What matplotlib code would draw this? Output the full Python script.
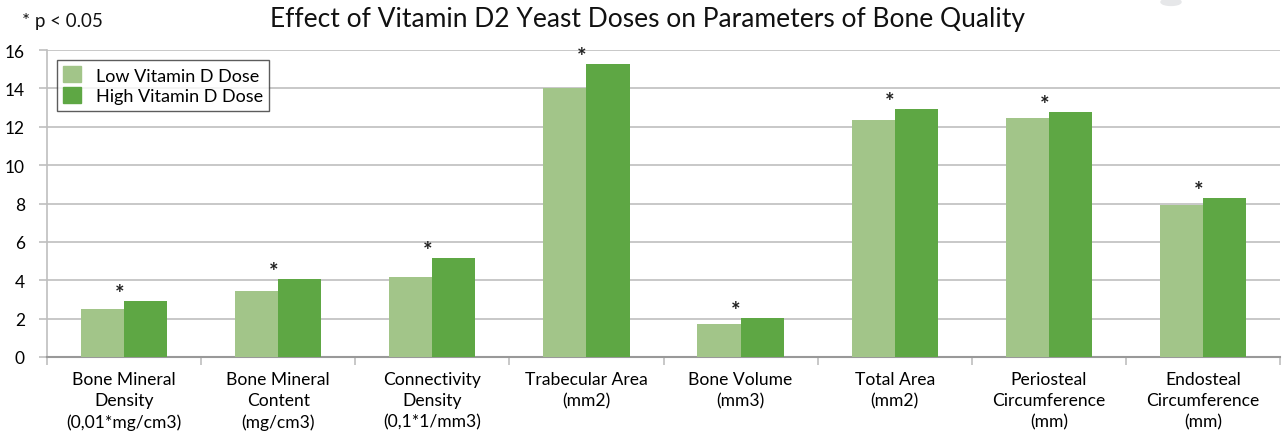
import matplotlib
matplotlib.use("Agg")
import matplotlib.pyplot as plt
import numpy as np
from matplotlib.patches import Circle, Patch

plt.rcParams['font.family'] = ['Lato', 'DejaVu Sans']

categories = ["Bone Mineral\nDensity\n(0,01*mg/cm3)", "Bone Mineral\nContent\n(mg/cm3)",
              "Connectivity\nDensity\n(0,1*1/mm3)", "Trabecular Area\n(mm2)",
              "Bone Volume\n(mm3)", "Total Area\n(mm2)",
              "Periosteal\nCircumference\n(mm)", "Endosteal\nCircumference\n(mm)"]
low_dose = [2.5, 3.44, 4.17, 14.0, 1.72, 12.35, 12.45, 7.92]
high_dose = [2.92, 4.06, 5.16, 15.27, 2.03, 12.92, 12.77, 8.29]
significant = [True] * 8
yticks = [0, 2, 4, 6, 8, 10, 12, 14, 16]

LOW = "#A2C589"
HIGH = "#5EA744"

fig = plt.figure(figsize=(12.83, 4.39), dpi=100)
ax = fig.add_axes([47/1283, 1-358/439, (1280-47)/1283, (358-51)/439])

x = np.arange(len(categories))
w = 0.28
ax.bar(x - w/2, low_dose, width=w, color=LOW, label="Low Vitamin D Dose", zorder=3)
ax.bar(x + w/2, high_dose, width=w, color=HIGH, label="High Vitamin D Dose", zorder=3)

for i, s in enumerate(significant):
    if s:
        top = max(low_dose[i], high_dose[i])
        ax.text(x[i] - 0.03, top + 0.05, "*", ha='center', va='baseline', fontsize=16,
                fontweight='bold', color='#222222')

ax.set_xlim(-0.5, len(categories) - 0.5)
ax.set_ylim(0, 16)
ax.set_yticks(yticks)
ax.set_yticklabels([str(t) for t in yticks], fontsize=12.5)
ax.yaxis.grid(True, color='#BFBFBF', linewidth=1.2, zorder=0)
ax.set_axisbelow(True)

ax.set_xticks(x)
ax.set_xticklabels(categories, fontsize=12.6, linespacing=1.4)
ax.tick_params(axis='x', length=0, pad=10)
ax.set_xticks(np.arange(-0.5, len(categories)), minor=True)
ax.tick_params(axis='x', which='minor', length=6, color='#BFBFBF', width=1.2)
ax.tick_params(axis='y', length=6, color='#BFBFBF', width=1.2, pad=10)

for sp in ['top', 'right']:
    ax.spines[sp].set_visible(False)
ax.spines['left'].set_color('#BFBFBF')
ax.spines['left'].set_linewidth(1.2)
ax.spines['bottom'].set_color('#999999')
ax.spines['bottom'].set_linewidth(1.5)

handles = [Patch(color=LOW), Patch(color=HIGH)]
leg = ax.legend(handles, ["Low Vitamin D Dose", "High Vitamin D Dose"],
                loc='upper left', bbox_to_anchor=(10/1233, 1-10/307),
                fontsize=13, frameon=True, fancybox=False, edgecolor='#333333',
                handlelength=1.0, handleheight=1.0, handletextpad=0.8,
                labelspacing=0.2, borderpad=0.35, borderaxespad=0)
leg.get_frame().set_linewidth(1.0)

fig.text(648/1283, 1-20/439, "Effect of Vitamin D2 Yeast Doses on Parameters of Bone Quality",
         ha='center', va='center', fontsize=19, color='#111111')
fig.text(22/1283, 1-21/439, "* p < 0.05", ha='left', va='center', fontsize=13.5, color='#111111')

circ = Circle((1171/1283, 1-3/439), 10/1283, transform=fig.transFigure, color='#E6E7E9', zorder=0,
              clip_on=False)
fig.patches.append(circ)

fig.savefig("out.png", dpi=100)
